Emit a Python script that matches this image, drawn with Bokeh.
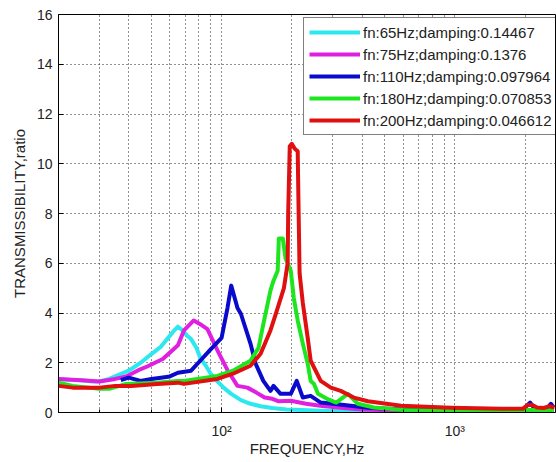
from bokeh.plotting import figure
from bokeh.models import Range1d, FixedTicker, Legend
from bokeh.embed import file_html
from bokeh.resources import INLINE

# ---- data ----
legend_labels = [
    "fn:65Hz;damping:0.14467",
    "fn:75Hz;damping:0.1376",
    "fn:110Hz;damping:0.097964",
    "fn:180Hz;damping:0.070853",
    "fn:200Hz;damping:0.046612",
]
colors = ["#2EE8F0", "#E020E0", "#0A0ACD", "#1EE61E", "#E01010"]

cyan_f = [20, 22, 25, 28, 30, 33, 36, 40, 45, 50, 55, 59, 62, 65, 68, 71, 74, 78, 81, 86, 90, 96, 102,
          110, 121, 133, 147, 165, 190, 220, 266, 330, 450, 700, 1000, 1500, 2000, 2650]
cyan_v = [1.35, 1.32, 1.3, 1.25, 1.25, 1.35, 1.5, 1.68, 2.0, 2.35, 2.65, 3.0, 3.25, 3.45, 3.3, 3.1, 2.95,
          2.6, 2.2, 1.85, 1.55, 1.25, 1.0, 0.75, 0.5, 0.35, 0.25, 0.18, 0.12, 0.1, 0.07, 0.05, 0.03,
          0.02, 0.02, 0.02, 0.03, 0.03]

magenta_f = [20, 25, 30, 35, 39, 44, 48, 56, 65, 69, 76, 81, 87, 96, 106, 117, 129, 141, 153, 165,
             176, 198, 230, 265, 324, 400, 600, 1000, 1600, 2000, 2650]
magenta_v = [1.35, 1.3, 1.25, 1.35, 1.45, 1.7, 1.85, 2.15, 2.7, 3.3, 3.7, 3.55, 3.35, 2.5, 1.7, 1.07,
             1.0, 0.8, 0.6, 0.55, 0.45, 0.47, 0.35, 0.27, 0.19, 0.12, 0.07, 0.05, 0.05, 0.06, 0.05]

blue_f = [37, 40, 45, 50, 55, 60, 65, 74, 81, 90, 100, 106, 110, 117, 121, 133, 140, 151, 162, 167,
          179, 198, 210, 223, 241, 266, 300, 358, 424, 600, 1000, 1700, 1950, 2100, 2200, 2450, 2580, 2650]
blue_v = [1.3, 1.4, 1.27, 1.35, 1.4, 1.45, 1.6, 1.68, 2.08, 2.55, 3.0, 4.2, 5.1, 4.2, 3.97, 2.77, 1.96,
          1.27, 0.87, 1.07, 0.75, 0.75, 1.27, 0.6, 0.67, 0.4, 0.35, 0.27, 0.19, 0.12, 0.08, 0.08, 0.1,
          0.4, 0.15, 0.1, 0.35, 0.2]

green_f = [20, 23, 30, 33, 39, 53, 65, 69, 96, 112, 133, 144, 151, 162, 167, 174, 176, 183, 188, 198,
           204, 212, 223, 234, 241, 249, 259, 283, 310, 348, 384, 450, 600, 1000, 2000, 2650]
green_v = [1.2, 1.07, 0.95, 0.95, 1.15, 1.2, 1.27, 1.27, 1.47, 1.68, 2.08, 2.6, 3.55, 4.9, 5.3, 5.7,
           7.0, 7.0, 6.2, 5.7, 4.6, 3.7, 2.77, 1.96, 1.27, 1.15, 0.75, 0.55, 0.4, 0.75, 0.35, 0.2, 0.1,
           0.08, 0.1, 0.1]

red_f = [20, 23, 30, 35, 41, 53, 65, 69, 96, 112, 133, 147, 162, 170, 185, 192, 193, 196, 200, 206,
         212, 214, 216, 223, 234, 241, 266, 294, 324, 369, 424, 588, 964, 1584, 1950, 2050, 2150,
         2250, 2400, 2550, 2675]
red_v = [1.07, 1.0, 1.0, 1.07, 1.07, 1.15, 1.2, 1.15, 1.35, 1.56, 1.88, 2.36, 3.3, 3.9, 5.0, 6.0, 8.0,
         10.7, 10.8, 10.6, 10.5, 8.0, 5.6, 4.4, 3.0, 2.08, 1.27, 1.0, 0.87, 0.6, 0.45, 0.27, 0.19,
         0.15, 0.15, 0.3, 0.3, 0.2, 0.18, 0.25, 0.2]

series_f = [cyan_f, magenta_f, blue_f, green_f, red_f]
series_v = [cyan_v, magenta_v, blue_v, green_v, red_v]

x_major = [100, 1000]
x_major_labels = ["10\u00b2", "10\u00b3"]
x_minor = [20, 30, 40, 50, 60, 70, 80, 90, 200, 300, 400, 500, 600, 700, 800, 900, 2000]
y_ticks = [0, 2, 4, 6, 8, 10, 12, 14, 16]

FONT = "Liberation Sans"

p = figure(width=556, height=462, x_axis_type="log",
           x_range=Range1d(20, 2700), y_range=Range1d(0, 16),
           output_backend="svg", toolbar_location=None,
           min_border_left=58, min_border_right=1, min_border_top=14, min_border_bottom=50)

p.background_fill_color = "white"
p.border_fill_color = "white"
p.outline_line_color = "black"
p.outline_line_width = 1

xt = FixedTicker(ticks=x_major, minor_ticks=x_minor)
p.xaxis.ticker = xt
p.xaxis.major_label_overrides = {v: s for v, s in zip(x_major, x_major_labels)}
p.yaxis.ticker = FixedTicker(ticks=y_ticks)

for ax in (p.xaxis, p.yaxis):
    ax.major_tick_in = 5
    ax.major_tick_out = 0
    ax.minor_tick_in = 3
    ax.minor_tick_out = 0
    ax.axis_line_color = "black"
    ax.major_tick_line_color = "black"
    ax.minor_tick_line_color = "black"
    ax.major_label_text_font = FONT
    ax.major_label_text_font_size = "14px"
    ax.major_label_text_color = "#222222"
    ax.axis_label_text_font = FONT
    ax.axis_label_text_font_size = "15px"
    ax.axis_label_text_font_style = "normal"
    ax.axis_label_text_color = "#222222"

p.yaxis.minor_tick_line_color = None
p.xaxis.axis_label = "FREQUENCY,Hz"
p.yaxis.axis_label = "TRANSMISSIBILITY,ratio"
p.xaxis.major_label_standoff = 10
p.xaxis.axis_label_standoff = -2
p.yaxis.major_label_standoff = 6
p.yaxis.axis_label_standoff = 6

for g in (p.xgrid, p.ygrid):
    g.grid_line_color = "#222222"
    g.grid_line_alpha = 1.0
    g.grid_line_dash = "1 3"
    g.grid_line_width = 1
p.xgrid.minor_grid_line_color = "#222222"
p.xgrid.minor_grid_line_alpha = 1.0
p.xgrid.minor_grid_line_dash = "1 3"
p.xgrid.minor_grid_line_width = 1

items = []
for f, v, c, lab in zip(series_f, series_v, colors, legend_labels):
    r = p.line(f, v, line_color=c, line_width=4, line_join="round")
    items.append((lab, [r]))

leg = Legend(items=items, location=(245, 277))
leg.border_line_color = "black"
leg.border_line_width = 1
leg.background_fill_color = "white"
leg.background_fill_alpha = 1
leg.label_text_font = FONT
leg.label_text_font_size = "15px"
leg.label_text_color = "#222222"
leg.glyph_width = 51
leg.glyph_height = 18
leg.label_height = 18
leg.label_width = 188
leg.spacing = 4
leg.padding = 5
leg.label_standoff = 3
leg.margin = 0
p.add_layout(leg, "center")

open("out.html", "w").write(file_html(p, INLINE))
